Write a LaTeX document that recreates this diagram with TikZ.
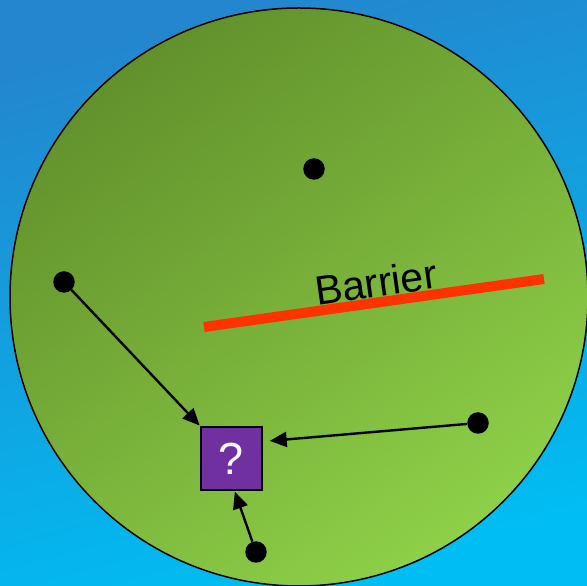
\documentclass[tikz,border=0pt]{standalone}
\usepackage{fontspec}
\setmainfont{Liberation Sans}
\usetikzlibrary{arrows.meta, positioning, calc}
\definecolor{skytop}{HTML}{2386CE}
\definecolor{skybot}{HTML}{00BEF3}
\definecolor{fieldtop}{HTML}{62912C}
\definecolor{fieldbot}{HTML}{8ED048}
\definecolor{wallred}{HTML}{FF3300}
\definecolor{askpurple}{HTML}{7030A0}

\begin{document}
\begin{tikzpicture}[x=1pt, y=1pt,
        dot/.style={circle, fill=black, inner sep=0pt, minimum size=21.5pt},
        qbox/.style={draw=black, line width=1.5pt, fill=askpurple, minimum width=61pt, minimum height=63pt, inner sep=0pt, text=white, font=\fontsize{45}{45}\selectfont},
        arrow/.style={-{Triangle[length=17pt, width=15pt]}, line width=2.4pt, black},
        barrier/.style={wallred, line width=10pt}
    ]
        % blue backdrop and green field
        \shade[top color=skytop, bottom color=skybot, shading angle=15] (0,0) rectangle (587,586);
        \useasboundingbox (0,0) rectangle (587,586);
        \shade[top color=fieldtop, bottom color=fieldbot, shading angle=35] (299,289) circle (289);
        \draw[line width=1.5pt] (299,289) circle (289);

        \coordinate (wallA) at (204,259);
        \coordinate (wallB) at (544,307);
        \draw [barrier] (wallA) -- (wallB);
        \node (walltxt) [rotate=8, font=\fontsize{41}{41}\selectfont] at (376,304) {Barrier};

        \node (top) [dot] at (314,417) {};
        \node (left) [dot] at (64,304) {};
        \node (right) [dot] at (478,163) {};
        \node (bottom) [dot] at (256,34) {};
        \node (ask) [qbox] at (231.5,127.5) {?};

        \draw [arrow, shorten >=1pt] (left) -- (ask.north west);
        \draw [arrow, shorten >=7pt] (right) -- ([yshift=17pt]ask.east);
        \draw [arrow, shorten >=1pt] (bottom) -- ([xshift=3pt]ask.south);
    \end{tikzpicture}
\end{document}
